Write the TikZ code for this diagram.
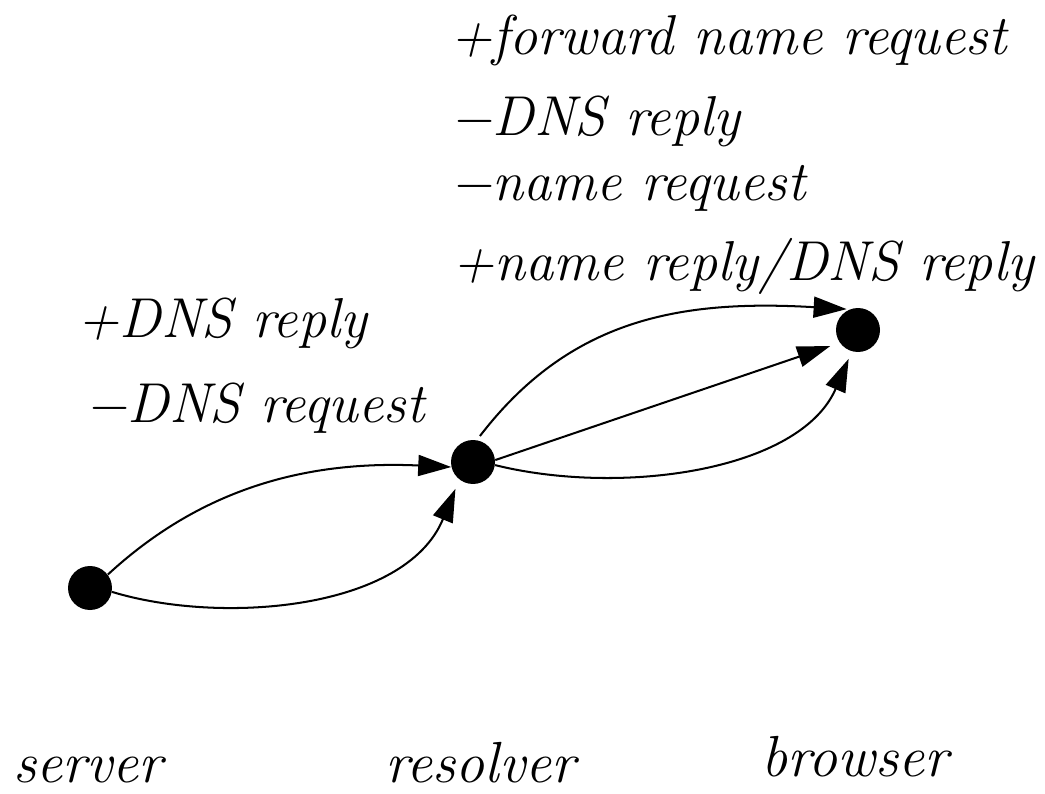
\documentclass[tikz,border=0pt]{standalone}
\usepackage{fontspec}
\usetikzlibrary{arrows.meta}
\begin{document}
\begin{tikzpicture}[x=0.02cm,y=-0.02cm,
  dot/.style={circle,fill=black,inner sep=0pt,minimum size=0.88cm},
  edge/.style={line width=1.15pt,-{Triangle[length=0.66cm,width=0.42cm]}},
  msglbl/.style={anchor=base west,inner sep=0pt,font=\fontsize{32}{38}\selectfont\itshape},
  rolelbl/.style={anchor=base west,inner sep=0pt,font=\fontsize{33}{40}\selectfont\itshape}]
\useasboundingbox (0,0) rectangle (1045,794);
\node[dot] (server) at (90,588) {};
\node[dot] (resolver) at (473,462) {};
\node[dot] (browser) at (858,330) {};
\node[msglbl] (t1) at (450,55) {+forward name request};
\node[msglbl] (t2) at (450,135) {−DNS reply};
\node[msglbl] (t3) at (450,200) {−name request};
\node[msglbl] (t4) at (452,280) {+name reply/DNS reply};
\node[msglbl] (t5) at (77,337) {+DNS reply};
\node[msglbl] (t6) at (85,422) {−DNS request};
\node[rolelbl] (l1) at (13,782) {server};
\node[rolelbl] (l2) at (385,782) {resolver};
\node[rolelbl] (l3) at (761,776) {browser};
\draw[edge] (server.37) .. controls +(90,-83) and +(-150,-7) .. (resolver.193);
\draw[edge,shorten >=0.2cm] (server.-10) .. controls +(108,33) and +(-54,131) .. (resolver.232);
\draw[edge,shorten <=0.1cm,shorten >=0.06cm] (resolver.80) .. controls +(93,-121) and +(-170,-10) .. (browser.112);
\draw[edge,shorten >=0.2cm] (resolver.5) -- (browser.215);
\draw[edge,shorten >=0.16cm] (resolver.-8) .. controls +(125,31) and +(-52,120) .. (browser.254);
\end{tikzpicture}
\end{document}
